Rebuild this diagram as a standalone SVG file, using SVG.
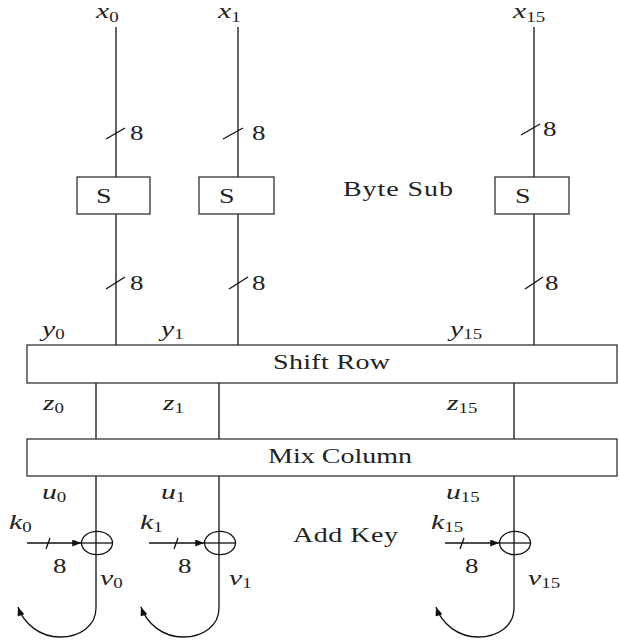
<svg xmlns="http://www.w3.org/2000/svg" width="619" height="640" viewBox="0 0 619 640">
<defs>
<style>
.ln{stroke:#111;stroke-width:1.3;fill:none}
.bx{stroke:#333;stroke-width:1.3;fill:#fff}
text{font-family:"Liberation Serif",serif;fill:#222}
.t{font-size:20px}
.m{font-size:22px;font-style:italic}
.s{font-size:14px;font-style:normal}
</style>
<marker id="ah" viewBox="0 0 10 8" refX="10" refY="4" markerWidth="10" markerHeight="7" markerUnits="userSpaceOnUse" orient="auto">
<path d="M0,0 L10,4 L0,8 z" fill="#111"/>
</marker>
</defs>
<rect width="619" height="640" fill="#fff"/>
<g id="connectors">
<line class="ln" x1="116" y1="27" x2="116" y2="177"/>
<line class="ln" x1="238" y1="27" x2="238" y2="177"/>
<line class="ln" x1="534" y1="27" x2="534" y2="177"/>
<line class="ln" x1="116" y1="214" x2="116" y2="345"/>
<line class="ln" x1="238" y1="214" x2="238" y2="345"/>
<line class="ln" x1="534" y1="214" x2="534" y2="345"/>
<line class="ln" x1="106" y1="139" x2="125" y2="128"/>
<line class="ln" x1="223" y1="139" x2="243" y2="128"/>
<line class="ln" x1="521" y1="135" x2="540" y2="124"/>
<line class="ln" x1="106" y1="289" x2="125" y2="277"/>
<line class="ln" x1="229" y1="289" x2="248" y2="277"/>
<line class="ln" x1="525" y1="289" x2="543" y2="277"/>
<line class="ln" x1="96" y1="383" x2="96" y2="439"/>
<line class="ln" x1="219" y1="383" x2="219" y2="439"/>
<line class="ln" x1="514" y1="383" x2="514" y2="439"/>
<line class="ln" x1="96" y1="476" x2="96" y2="608"/>
<line class="ln" x1="219" y1="476" x2="219" y2="608"/>
<line class="ln" x1="514" y1="476" x2="514" y2="608"/>
<line class="ln" x1="27" y1="543" x2="81" y2="543" marker-end="url(#ah)"/>
<line class="ln" x1="149" y1="543" x2="204" y2="543" marker-end="url(#ah)"/>
<line class="ln" x1="445" y1="543" x2="499" y2="543" marker-end="url(#ah)"/>
<line class="ln" x1="46" y1="549" x2="50" y2="538"/>
<line class="ln" x1="174" y1="549" x2="178" y2="538"/>
<line class="ln" x1="460" y1="549" x2="464" y2="538"/>
<path class="ln" d="M96,608 C96,626 80,637 60,637 C40,637 24,624 18,607" marker-end="url(#ah)"/>
<path class="ln" d="M219,608 C219,626 203,637 183,637 C163,637 147,624 141,607" marker-end="url(#ah)"/>
<path class="ln" d="M514,608 C514,626 498,637 478,637 C458,637 442,624 436,607" marker-end="url(#ah)"/>
</g>
<g id="S0"><rect class="bx" x="77" y="177" width="73" height="37"/><text class="t" transform="translate(96,203) scale(1.4,1)">S</text></g>
<g id="S1"><rect class="bx" x="199" y="177" width="75" height="37"/><text class="t" transform="translate(219,203) scale(1.4,1)">S</text></g>
<g id="S15"><rect class="bx" x="495" y="177" width="74" height="37"/><text class="t" transform="translate(515,203) scale(1.4,1)">S</text></g>
<g id="shiftrow"><rect class="bx" x="27" y="345" width="590" height="38"/><text class="t" transform="translate(273,369) scale(1.4,1)" textLength="83.6">Shift Row</text></g>
<g id="mixcolumn"><rect class="bx" x="27" y="439" width="590" height="37"/><text class="t" transform="translate(268,463) scale(1.4,1)" textLength="102.9">Mix Column</text></g>
<g id="xor0"><ellipse class="ln" cx="97" cy="543" rx="15.5" ry="11.7"/><line class="ln" x1="81" y1="543" x2="112" y2="543"/></g>
<g id="xor1"><ellipse class="ln" cx="220" cy="543" rx="15.5" ry="11.7"/><line class="ln" x1="204" y1="543" x2="235" y2="543"/></g>
<g id="xor15"><ellipse class="ln" cx="515" cy="543" rx="15.5" ry="11.7"/><line class="ln" x1="499" y1="543" x2="530" y2="543"/></g>
<g id="labels">
<text class="t" transform="translate(343,196) scale(1.4,1)" textLength="78.6">Byte Sub</text>
<text class="t" transform="translate(293,542) scale(1.4,1)" textLength="75">Add Key</text>
<text class="t" transform="translate(130,140) scale(1.35,1)">8</text>
<text class="t" transform="translate(252,140) scale(1.35,1)">8</text>
<text class="t" transform="translate(543,136) scale(1.35,1)">8</text>
<text class="t" transform="translate(130,290) scale(1.35,1)">8</text>
<text class="t" transform="translate(252,290) scale(1.35,1)">8</text>
<text class="t" transform="translate(545,290) scale(1.35,1)">8</text>
<text class="t" transform="translate(53,573) scale(1.35,1)">8</text>
<text class="t" transform="translate(178,573) scale(1.35,1)">8</text>
<text class="t" transform="translate(465,573) scale(1.35,1)">8</text>
<text class="m" transform="translate(96,18) scale(1.35,1)">x<tspan class="s" dy="4">0</tspan></text>
<text class="m" transform="translate(218,18) scale(1.35,1)">x<tspan class="s" dy="4">1</tspan></text>
<text class="m" transform="translate(513,18) scale(1.35,1)">x<tspan class="s" dy="4">15</tspan></text>
<text class="m" transform="translate(42,336) scale(1.35,1)">y<tspan class="s" dy="3">0</tspan></text>
<text class="m" transform="translate(161,336) scale(1.35,1)">y<tspan class="s" dy="3">1</tspan></text>
<text class="m" transform="translate(450,336) scale(1.35,1)">y<tspan class="s" dy="3">15</tspan></text>
<text class="m" transform="translate(43,410) scale(1.35,1)">z<tspan class="s" dy="3">0</tspan></text>
<text class="m" transform="translate(163,410) scale(1.35,1)">z<tspan class="s" dy="3">1</tspan></text>
<text class="m" transform="translate(447,410) scale(1.35,1)">z<tspan class="s" dy="3">15</tspan></text>
<text class="m" transform="translate(42,499) scale(1.35,1)">u<tspan class="s" dy="3">0</tspan></text>
<text class="m" transform="translate(161,499) scale(1.35,1)">u<tspan class="s" dy="3">1</tspan></text>
<text class="m" transform="translate(446,499) scale(1.35,1)">u<tspan class="s" dy="3">15</tspan></text>
<text class="m" transform="translate(9,529) scale(1.35,1)">k<tspan class="s" dy="3">0</tspan></text>
<text class="m" transform="translate(140,529) scale(1.35,1)">k<tspan class="s" dy="3">1</tspan></text>
<text class="m" transform="translate(431,529) scale(1.35,1)">k<tspan class="s" dy="3">15</tspan></text>
<text class="m" transform="translate(100,585) scale(1.35,1)">v<tspan class="s" dy="3">0</tspan></text>
<text class="m" transform="translate(229,585) scale(1.35,1)">v<tspan class="s" dy="3">1</tspan></text>
<text class="m" transform="translate(528,585) scale(1.35,1)">v<tspan class="s" dy="3">15</tspan></text>
</g>
</svg>
